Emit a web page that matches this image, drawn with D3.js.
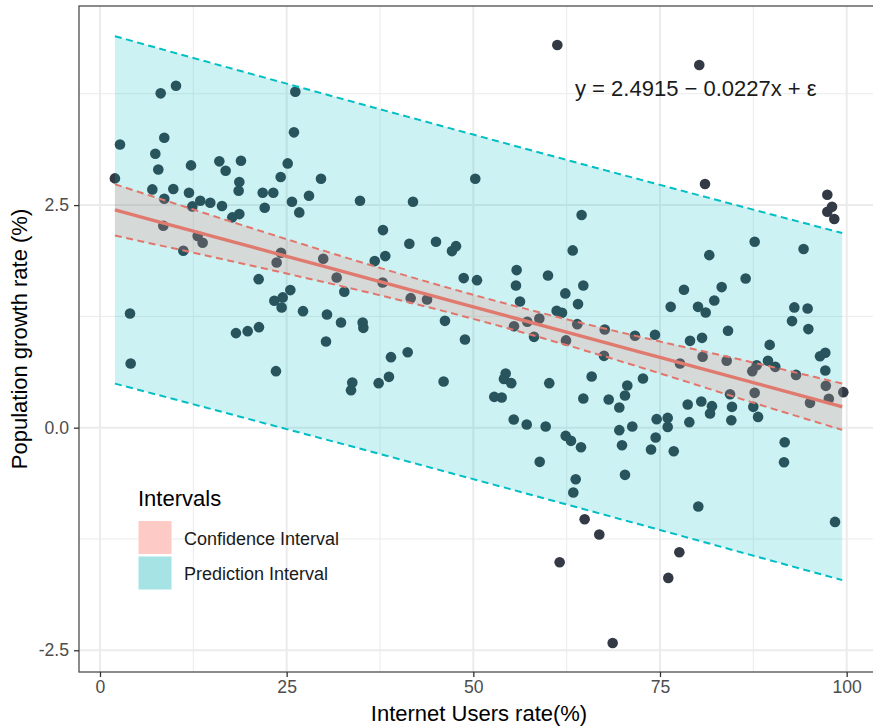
<!DOCTYPE html>
<meta charset="utf-8">
<script src="https://d3js.org/d3.v7.min.js"></script>
<style>
  body { margin: 0; background: #fff; }
  text { font-family: "Liberation Sans", Arial, sans-serif; }
</style>
<div id="chart"></div>
<script>

// internet users rate (%) and population growth rate (%) per country
var internetRate = [
  2.0, 2.68, 8.13, 10.18, 8.61, 7.41, 7.81, 7.01, 9.82, 8.61,
  12.19, 11.92, 13.43, 12.37, 14.77, 16.34, 15.98, 16.83, 18.88, 18.66,
  18.57, 18.66, 17.72, 21.79, 23.21, 22.06, 24.2, 25.14, 25.98, 26.16,
  25.71, 26.69, 27.99, 29.6, 8.48, 13.08, 13.75, 11.16, 24.24, 29.9,
  23.66, 31.7, 21.25, 25.49, 23.35, 24.47, 24.33, 27.19, 30.4, 32.28,
  32.72, 4.02, 4.11, 18.21, 19.78, 21.29, 30.27, 23.57, 50.26, 34.82,
  41.92, 64.5, 37.9, 41.43, 45.0, 47.68, 47.14, 63.31, 38.21, 36.79,
  37.86, 48.71, 50.49, 41.61, 43.8, 55.8, 55.71, 60.0, 56.25, 62.32,
  64.73, 64.02, 61.16, 61.88, 58.84, 57.23, 55.45, 58.13, 63.92, 62.41,
  35.18, 35.27, 46.2, 48.88, 38.97, 41.21, 33.79, 33.62, 37.32, 38.7,
  46.02, 54.33, 54.1, 55.08, 60.17, 65.85, 52.8, 53.8, 64.73, 55.41,
  57.15, 59.69, 62.37, 63.08, 64.42, 58.89, 63.71, 63.39, 64.91, 66.87,
  61.56, 81.03, 97.41, 98.04, 97.41, 98.34, 87.68, 94.23, 81.6, 86.47,
  83.26, 78.21, 82.27, 76.43, 80.09, 81.12, 92.99, 94.77, 92.68, 94.87,
  84.11, 67.6, 71.65, 74.33, 79.02, 80.63, 89.69, 67.5, 80.71, 77.68,
  83.93, 87.95, 87.36, 89.46, 90.44, 96.43, 97.14, 93.22, 97.14, 72.72,
  70.62, 70.31, 68.13, 69.55, 78.71, 80.53, 81.96, 84.38, 84.64, 87.68,
  87.5, 95.09, 97.21, 97.61, 99.55, 81.7, 84.55, 88.13, 74.55, 76.03,
  76.03, 78.93, 69.55, 71.29, 69.91, 74.42, 73.8, 76.84, 91.7, 91.61,
  70.31, 80.13, 98.44, 77.59, 76.11, 68.66, 61.25, 80.26
];
var popGrowth = [
  2.80, 3.18, 3.755, 3.84, 3.256, 3.077, 2.90, 2.676, 2.68, 2.571,
  2.946, 2.638, 2.548, 2.485, 2.526, 2.489, 2.991, 2.886, 2.998, 2.758,
  2.661, 2.399, 2.362, 2.638, 2.638, 2.47, 2.815, 2.968, 3.317, 3.773,
  2.537, 2.418, 2.605, 2.796, 2.268, 2.152, 2.077, 1.987, 1.964, 1.897,
  1.856, 1.687, 1.668, 1.545, 1.425, 1.463, 1.35, 1.309, 1.272, 1.182,
  1.526, 1.283, 0.721, 1.062, 1.084, 1.129, 0.968, 0.635, 2.796, 2.548,
  2.537, 2.388, 2.219, 2.066, 2.088, 2.039, 1.983, 1.991, 1.927, 1.871,
  1.631, 1.68, 1.657, 1.455, 1.44, 1.77, 1.597, 1.71, 1.418, 1.508,
  1.597, 1.388, 1.313, 1.29, 1.227, 1.189, 1.14, 1.02, 1.163, 0.98,
  1.182, 1.121, 1.2, 0.991, 0.792, 0.848, 0.508, 0.421, 0.5, 0.571,
  0.519, 0.609, 0.548, 0.5, 0.5, 0.575, 0.346, 0.339, 0.328, 0.092,
  0.036, 0.013, -0.092, -0.148, -0.219, -0.384, -0.579, -0.728, -1.028, -1.2,
  -1.511, 2.736, 2.616, 2.481, 2.425, 2.343, 2.088, 2.006, 1.938, 1.676,
  1.579, 1.549, 1.429, 1.357, 1.357, 1.294, 1.351, 1.339, 1.197, 1.107,
  1.088, 1.103, 1.032, 1.043, 0.975, 1.009, 0.93, 0.807, 0.796, 0.721,
  0.751, 0.702, 0.635, 0.751, 0.683, 0.803, 0.841, 0.593, 0.643, 0.553,
  0.474, 0.362, 0.317, 0.227, 0.261, 0.294, 0.242, 0.376, 0.234, 0.391,
  0.234, 0.279, 0.47, 0.324, 0.399, 0.16, 0.084, 0.121, 0.096, 0.11,
  0.009, 0.062, -0.028, 0.013, -0.197, -0.11, -0.245, -0.264, -0.163, -0.388,
  -0.53, -0.886, -1.058, -1.399, -1.687, -2.418, 4.298, 4.073
];

// fitted line and interval bands
var bandX  = [2, 12, 25, 37, 50, 62, 75, 87, 99.4];
var fitY   = [2.446, 2.219, 1.924, 1.652, 1.357, 1.084, 0.789, 0.517, 0.235];
var ciLow  = [2.158, 1.974, 1.731, 1.497, 1.222, 0.940, 0.610, 0.293, -0.025];
var ciHigh = [2.734, 2.464, 2.117, 1.807, 1.492, 1.228, 0.968, 0.741, 0.496];
var piLow  = [0.495, 0.274, -0.016, -0.284, -0.578, -0.851, -1.149, -1.426, -1.712];
var piHigh = [4.397, 4.164, 3.864, 3.588, 3.292, 3.019, 2.727, 2.460, 2.186];

var xMajor = [0, 25, 50, 75, 100];
var xMinor = [12.5, 37.5, 62.5, 87.5];
var yMajor = [-2.5, 0, 2.5];
var yMinor = [-1.25, 1.25, 3.75];
var yTickLabels = ["-2.5", "0.0", "2.5"];

var legendLabels = ["Confidence Interval", "Prediction Interval"];
var legendColors = ["#fdcac5", "#a5e3e5"];

var width = 873, height = 728;
var panel = {left: 79, right: 879, top: 6, bottom: 672};

var svg = d3.select("#chart").append("svg")
    .attr("width", width)
    .attr("height", height);

var x = d3.scaleLinear().domain([-2.81, 104.33]).range([panel.left, panel.right]);
var y = d3.scaleLinear().domain([-2.744, 4.736]).range([panel.bottom, panel.top]);

svg.append("defs").append("clipPath").attr("id", "clip")
  .append("rect")
    .attr("x", panel.left).attr("y", panel.top)
    .attr("width", panel.right - panel.left)
    .attr("height", panel.bottom - panel.top);

var plot = svg.append("g").attr("clip-path", "url(#clip)");

// grid
plot.selectAll(".gminx").data(xMinor).enter().append("line")
    .attr("x1", d => x(d)).attr("x2", d => x(d))
    .attr("y1", panel.top).attr("y2", panel.bottom)
    .attr("stroke", "#ebebeb").attr("stroke-width", 1);
plot.selectAll(".gminy").data(yMinor).enter().append("line")
    .attr("x1", panel.left).attr("x2", panel.right)
    .attr("y1", d => y(d)).attr("y2", d => y(d))
    .attr("stroke", "#ebebeb").attr("stroke-width", 1);
plot.selectAll(".gmajx").data(xMajor).enter().append("line")
    .attr("x1", d => x(d)).attr("x2", d => x(d))
    .attr("y1", panel.top).attr("y2", panel.bottom)
    .attr("stroke", "#ebebeb").attr("stroke-width", 2);
plot.selectAll(".gmajy").data(yMajor).enter().append("line")
    .attr("x1", panel.left).attr("x2", panel.right)
    .attr("y1", d => y(d)).attr("y2", d => y(d))
    .attr("stroke", "#ebebeb").attr("stroke-width", 2);

// points (drawn under the ribbons, like the original)
var pts = internetRate.map((d, i) => ({x: d, y: popGrowth[i]}));
plot.selectAll("circle").data(pts).enter().append("circle")
    .attr("cx", d => x(d.x))
    .attr("cy", d => y(d.y))
    .attr("r", 5.3)
    .attr("fill", "#333a45");

var band = bandX.map((d, i) => ({
  x: d, fit: fitY[i], ciL: ciLow[i], ciH: ciHigh[i], piL: piLow[i], piH: piHigh[i]
}));

var area = (lo, hi) => d3.area().x(d => x(d.x)).y0(d => y(d[lo])).y1(d => y(d[hi])).curve(d3.curveMonotoneX);
var line = key => d3.line().x(d => x(d.x)).y(d => y(d[key])).curve(d3.curveMonotoneX);

plot.append("path").datum(band)
    .attr("d", area("piL", "piH"))
    .attr("fill", "#00bfc4").attr("fill-opacity", 0.2);
plot.append("path").datum(band)
    .attr("d", area("ciL", "ciH"))
    .attr("fill", "#f8766d").attr("fill-opacity", 0.2);

["piL", "piH"].forEach(function(k) {
  plot.append("path").datum(band)
      .attr("d", line(k))
      .attr("fill", "none")
      .attr("stroke", "#00bfc4")
      .attr("stroke-width", 2)
      .attr("stroke-dasharray", "7,4.5");
});
["ciL", "ciH"].forEach(function(k) {
  plot.append("path").datum(band)
      .attr("d", line(k))
      .attr("fill", "none")
      .attr("stroke", "#e3766c")
      .attr("stroke-width", 2)
      .attr("stroke-dasharray", "7,4.5");
});
plot.append("path").datum(band)
    .attr("d", line("fit"))
    .attr("fill", "none")
    .attr("stroke", "#e07a6f")
    .attr("stroke-width", 3.4);

// equation
svg.append("text")
    .attr("x", 575).attr("y", 96)
    .style("font-size", "22px")
    .attr("fill", "#1a1a1a")
    .text("y = 2.4915 \u2212 0.0227x + \u03b5");

// panel border
svg.append("rect")
    .attr("x", panel.left).attr("y", panel.top)
    .attr("width", panel.right - panel.left)
    .attr("height", panel.bottom - panel.top)
    .attr("fill", "none")
    .attr("stroke", "#4d4d4d")
    .attr("stroke-width", 1.3);

// axes
var xAxis = svg.append("g")
    .attr("transform", "translate(0," + panel.bottom + ")")
    .call(d3.axisBottom(x).tickValues(xMajor).tickSize(5).tickSizeOuter(0).tickPadding(4));
var yAxis = svg.append("g")
    .attr("transform", "translate(" + panel.left + ",0)")
    .call(d3.axisLeft(y).tickValues(yMajor).tickSize(5).tickSizeOuter(0).tickPadding(5)
      .tickFormat((d, i) => yTickLabels[i]));
[xAxis, yAxis].forEach(function(a) {
  a.select(".domain").remove();
  a.selectAll(".tick line").attr("stroke", "#333").attr("stroke-width", 1.3);
  a.selectAll(".tick text")
    .attr("fill", "#4d4d4d")
    .style("font-size", "17.6px")
    .style("font-family", "'Liberation Sans', Arial, sans-serif");
});

svg.append("text")
    .attr("x", (panel.left + panel.right) / 2).attr("y", 721)
    .attr("text-anchor", "middle")
    .style("font-size", "22px")
    .text("Internet Users rate(%)");

svg.append("text")
    .attr("transform", "translate(27," + ((panel.top + panel.bottom) / 2) + ") rotate(-90)")
    .attr("text-anchor", "middle")
    .style("font-size", "22px")
    .text("Population growth rate (%)");

// legend
var legend = svg.append("g");
legend.append("text")
    .attr("x", 138).attr("y", 506)
    .style("font-size", "22px")
    .text("Intervals");
legend.selectAll("rect").data(legendLabels).enter().append("rect")
    .attr("x", 138.5)
    .attr("y", (d, i) => 521 + i * 35.5)
    .attr("width", 33).attr("height", 33)
    .attr("fill", (d, i) => legendColors[i]);
legend.selectAll(".lab").data(legendLabels).enter().append("text")
    .attr("x", 184)
    .attr("y", (d, i) => 545 + i * 35)
    .style("font-size", "18px")
    .attr("fill", "#1a1a1a")
    .text(d => d);

</script>
